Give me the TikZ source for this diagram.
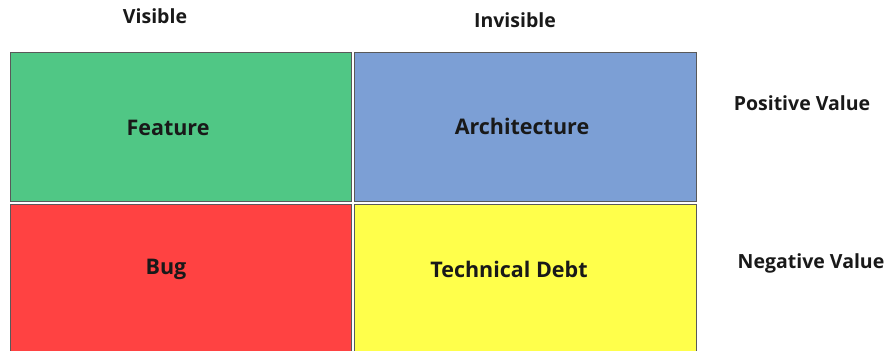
\documentclass[tikz,border=0pt]{standalone}
\usepackage{fontspec}
\setmainfont{Open Sans}
\definecolor{featgreen}{RGB}{80,199,133}
\definecolor{archblue}{RGB}{124,159,213}
\definecolor{bugred}{RGB}{255,66,66}
\definecolor{debtyellow}{RGB}{255,255,75}
\begin{document}
\begin{tikzpicture}[x=1pt,y=-1pt,
  quad/.style={draw=black!65, line width=1pt},
  quadtext/.style={font=\bfseries\fontsize{21.5}{24}\selectfont, text=black!90},
  axistext/.style={font=\bfseries\fontsize{19.5}{22}\selectfont, text=black!90}]
  \useasboundingbox (0,0) rectangle (887,351);
  \clip (0,0) rectangle (887,351);
  % the four quadrants
  \path[quad, fill=featgreen]  (10.5,52.5) rectangle (351,201);
  \path[quad, fill=archblue]   (354,52.5) rectangle (696,201);
  \path[quad, fill=bugred]     (10.5,204) rectangle (351,360);
  \path[quad, fill=debtyellow] (354,204) rectangle (696,360);
  % quadrant labels
  \node[quadtext] (feature) at (168,128) {Feature};
  \node[quadtext] (arch) at (522,126) {Architecture};
  \node[quadtext] (bug) at (166,269) {Bug};
  \node[quadtext] (debt) at (509,269) {Technical Debt};
  % axis labels
  \node[axistext] (visible) at (155,16) {Visible};
  \node[axistext] (invisible) at (515,20) {Invisible};
  \node[axistext] (pos) at (802,103) {Positive Value};
  \node[axistext] (neg) at (811,263) {Negative Value};
\end{tikzpicture}
\end{document}
